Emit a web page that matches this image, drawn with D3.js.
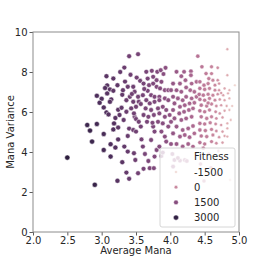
<!DOCTYPE html>
<html>
<head>
  <title>Average Mana vs Mana Variance</title>
  <style>
    body { margin: 0; background: #fff; }
    svg text { font-family: "DejaVu Sans", sans-serif; fill: #262626; }
  </style>
  <script src="https://d3js.org/d3.v7.min.js"></script>
</head>
<body>
  <div id="chart"></div>

  <script>
    // rows are [average mana, mana variance, fitness]
    var leftCluster = [
      [2.50, 3.72, 3100], [2.90, 2.36, 2900], [2.79, 5.35, 2800], [2.83, 5.07, 2850],
      [2.93, 5.40, 2700], [2.86, 4.52, 2800], [3.03, 4.90, 2600], [3.03, 4.10, 2650],
      [3.13, 4.39, 2500], [3.13, 3.77, 2550], [3.20, 4.22, 2400], [3.17, 5.13, 2450],
      [3.18, 5.43, 2400], [2.93, 6.81, 2500], [3.00, 6.66, 2450], [2.97, 6.46, 2500],
      [3.03, 6.23, 2400], [3.07, 5.98, 2450], [3.10, 5.88, 2350], [3.07, 7.79, 2300],
      [3.17, 7.67, 2250], [3.08, 7.33, 2350], [3.12, 7.13, 2300], [3.08, 6.93, 2350],
      [3.17, 7.06, 2250], [3.14, 6.63, 2300], [3.12, 6.51, 2350], [3.23, 7.34, 2200],
      [3.27, 8.00, 2100], [3.24, 6.11, 2250], [3.26, 5.85, 2200], [3.29, 6.21, 2150],
      [3.24, 5.22, 2250], [3.24, 4.63, 2300], [3.30, 3.49, 2300], [3.23, 2.56, 2350],
      [3.30, 6.86, 2150], [3.31, 7.09, 2100], [3.05, 7.20, 2400], [3.20, 5.70, 2300]
    ];

    var midCluster = [
      [3.33, 8.22, 2000], [3.40, 8.79, 1900], [3.53, 8.89, 1800], [3.42, 7.86, 1950],
      [3.32, 5.60, 2100], [3.33, 4.27, 2150], [3.38, 4.02, 2100], [3.36, 2.97, 2100],
      [3.40, 2.66, 2050], [3.53, 2.94, 1900], [3.49, 3.60, 1950], [3.47, 3.94, 2000],
      [3.38, 4.80, 2050], [3.40, 5.17, 2000], [3.46, 5.10, 1950], [3.48, 5.76, 1900],
      [3.50, 5.65, 1900], [3.54, 5.51, 1850], [3.57, 5.27, 1850], [3.50, 5.02, 1900],
      [3.58, 4.63, 1800], [3.60, 4.27, 1800], [3.63, 3.90, 1750], [3.61, 3.16, 1800],
      [3.70, 3.19, 1700], [3.76, 3.19, 1650], [3.68, 3.55, 1700], [3.77, 3.77, 1600],
      [3.80, 4.10, 1600], [3.87, 3.80, 1500], [3.84, 4.27, 1550], [3.89, 3.97, 1450],
      [3.72, 4.60, 1700], [3.77, 5.02, 1650], [3.75, 5.27, 1650], [3.82, 5.51, 1550],
      [3.87, 5.02, 1500], [3.92, 4.77, 1450], [3.94, 4.52, 1400], [3.38, 7.26, 2000],
      [3.34, 7.52, 2050], [3.46, 7.26, 1950], [3.48, 7.01, 1900], [3.41, 6.76, 1950],
      [3.36, 6.59, 2000], [3.46, 6.51, 1950], [3.50, 6.26, 1900], [3.43, 6.18, 1950],
      [3.36, 6.01, 2000], [3.47, 5.93, 1900], [3.53, 6.76, 1850], [3.54, 6.51, 1850],
      [3.60, 6.84, 1800], [3.56, 7.56, 1850], [3.51, 7.72, 1850], [3.65, 8.01, 1750],
      [3.73, 8.06, 1650], [3.81, 8.01, 1600], [3.86, 8.09, 1500], [3.93, 8.21, 1400],
      [3.67, 7.67, 1750], [3.61, 7.42, 1800], [3.69, 7.34, 1700], [3.75, 7.76, 1650],
      [3.80, 7.59, 1600], [3.87, 7.51, 1500], [3.75, 7.42, 1650], [3.80, 7.26, 1600],
      [3.85, 7.18, 1550], [3.92, 7.09, 1450], [3.97, 7.09, 1400], [3.67, 7.06, 1750],
      [3.72, 6.84, 1700], [3.77, 6.76, 1650], [3.84, 6.76, 1550], [3.65, 6.59, 1750],
      [3.70, 6.43, 1700], [3.77, 6.51, 1650], [3.84, 6.59, 1550], [3.92, 6.68, 1450],
      [3.97, 6.59, 1400], [3.64, 6.18, 1750], [3.72, 6.10, 1700], [3.82, 6.18, 1600],
      [3.89, 6.26, 1500], [3.94, 6.10, 1450], [3.61, 5.85, 1800], [3.68, 5.76, 1700],
      [3.76, 5.85, 1650], [3.84, 5.93, 1550], [3.92, 5.76, 1450], [3.99, 5.85, 1350],
      [3.66, 5.51, 1750], [3.74, 5.46, 1650], [3.89, 5.43, 1500], [3.97, 5.27, 1400],
      [3.44, 6.90, 1950], [3.57, 6.40, 1850], [3.62, 7.15, 1800], [3.90, 7.90, 1450]
    ];

    var transition = [
      [4.01, 5.51, 1300], [4.01, 4.40, 1300], [4.01, 7.09, 1300], [4.09, 8.01, 1150],
      [4.20, 8.01, 1000], [4.30, 8.04, 900], [4.30, 7.84, 850], [4.16, 7.79, 1050],
      [4.22, 7.59, 950], [4.14, 7.42, 1050], [4.04, 7.42, 1250], [4.09, 7.09, 1150],
      [4.16, 7.01, 1050], [4.23, 7.23, 950], [4.31, 7.42, 800], [4.38, 7.51, 650],
      [4.29, 7.09, 800], [4.35, 7.01, 700], [4.04, 6.76, 1250], [4.11, 6.68, 1100],
      [4.18, 6.59, 1000], [4.23, 6.76, 950], [4.31, 6.68, 800], [4.38, 6.76, 650],
      [4.06, 6.43, 1200], [4.14, 6.26, 1050], [4.21, 6.34, 950], [4.28, 6.43, 850],
      [4.35, 6.46, 700], [4.04, 6.10, 1250], [4.13, 5.93, 1100], [4.20, 6.01, 1000],
      [4.27, 6.10, 850], [4.33, 6.18, 750], [4.06, 5.68, 1200], [4.16, 5.60, 1050],
      [4.23, 5.68, 950], [4.31, 5.76, 800], [4.09, 5.27, 1150], [4.18, 5.10, 1000],
      [4.26, 5.18, 900], [4.33, 5.30, 750], [4.04, 4.93, 1250], [4.14, 4.77, 1050],
      [4.21, 4.85, 950], [4.28, 4.74, 850], [4.35, 4.93, 700], [4.09, 4.40, 1150],
      [4.18, 4.27, 1000], [4.26, 4.40, 900], [4.33, 4.27, 750], [4.06, 3.60, 1200],
      [4.14, 3.57, 1050], [4.21, 3.60, 950], [4.04, 3.27, 1250], [4.03, 3.90, 1250]
    ];

    var rightCluster = [
      [4.40, 8.79, 500], [4.46, 8.26, 400], [4.60, 8.26, 100], [4.69, 8.21, -100],
      [4.83, 9.14, -700], [4.52, 7.92, 300], [4.60, 7.92, 100], [4.56, 7.67, 200],
      [4.62, 7.59, 50], [4.69, 7.59, -150], [4.83, 7.84, -700], [4.43, 7.51, 450],
      [4.49, 7.34, 350], [4.55, 7.42, 200], [4.65, 7.34, 0], [4.71, 7.42, -300],
      [4.94, 7.34, -1500], [4.43, 7.18, 450], [4.50, 7.13, 300], [4.57, 7.18, 150],
      [4.65, 7.09, 0], [4.71, 7.09, -300], [4.79, 7.18, -600], [4.86, 7.09, -900],
      [4.42, 6.88, 500], [4.48, 6.84, 350], [4.55, 6.89, 200], [4.62, 6.84, 50],
      [4.69, 6.89, -150], [4.77, 6.84, -500], [4.84, 6.93, -800], [4.43, 6.63, 450],
      [4.50, 6.59, 300], [4.57, 6.68, 150], [4.65, 6.59, 0], [4.72, 6.63, -300],
      [4.79, 6.59, -600], [4.86, 6.68, -900], [4.45, 6.34, 400], [4.53, 6.30, 250],
      [4.60, 6.40, 100], [4.67, 6.30, -100], [4.74, 6.34, -400], [4.82, 6.30, -700],
      [4.43, 6.06, 450], [4.50, 6.01, 300], [4.57, 6.10, 150], [4.66, 6.01, -50],
      [4.72, 5.93, -300], [4.79, 6.06, -600], [4.86, 6.10, -1000], [4.45, 5.76, 400],
      [4.53, 5.68, 250], [4.60, 5.76, 100], [4.67, 5.68, -100], [4.76, 5.73, -450],
      [4.43, 5.43, 450], [4.50, 5.40, 300], [4.58, 5.46, 150], [4.66, 5.40, -50],
      [4.74, 5.35, -400], [4.83, 5.43, -800], [4.43, 5.10, 450], [4.51, 5.07, 300],
      [4.60, 5.13, 100], [4.67, 5.05, -100], [4.76, 5.02, -450], [4.83, 5.18, -800],
      [4.45, 4.80, 400], [4.53, 4.77, 250], [4.62, 4.85, 50], [4.71, 4.74, -250],
      [4.79, 4.80, -600], [4.43, 4.47, 450], [4.50, 4.40, 300], [4.60, 4.52, 100],
      [4.67, 4.44, -100], [4.76, 4.47, -450], [4.83, 4.77, -800], [4.48, 4.19, 350],
      [4.90, 6.30, -1200], [4.88, 5.60, -1100], [4.74, 6.95, -400], [4.55, 6.45, 200]
    ];

    // faint points sitting behind the legend box
    var underLegend = [
      [4.11, 3.70, 1100], [4.24, 3.55, 900], [4.44, 3.40, 400], [4.59, 3.22, 100],
      [4.68, 2.88, -150], [4.49, 2.55, 300], [4.77, 3.62, -500], [4.87, 2.60, -1000],
      [4.56, 3.90, 150], [4.70, 4.05, -200]
    ];

    var legendTicks = [-1500, 0, 1500, 3000];
    var xTicks = [2.0, 2.5, 3.0, 3.5, 4.0, 4.5, 5.0];
    var yTicks = [0, 2, 4, 6, 8, 10];

    var data = leftCluster.concat(midCluster, transition, rightCluster, underLegend);

    var width = 266, height = 266;
    var margin = { top: 32, right: 27, bottom: 34, left: 33 };

    var svg = d3.select("#chart")
      .append("svg")
      .attr("width", width)
      .attr("height", height);

    var x = d3.scaleLinear().domain([2, 5]).range([margin.left, width - margin.right]);
    var y = d3.scaleLinear().domain([0, 10]).range([height - margin.bottom, margin.top]);

    // seaborn's default cubehelix map: light end for low fitness, dark end for high
    function cubehelix(t) {
      var lam = 0.85 + (0.15 - 0.85) * t;
      var a = 0.8 * lam * (1 - lam) / 2;
      var phi = 2 * Math.PI * (0 / 3 + 0.4 * lam);
      var c = Math.cos(phi), s = Math.sin(phi);
      var r = lam + a * (-0.14861 * c + 1.78277 * s);
      var g = lam + a * (-0.29227 * c - 0.90649 * s);
      var b = lam + a * (1.97294 * c);
      function k(v) { return Math.round(Math.max(0, Math.min(1, v)) * 255); }
      return "rgb(" + k(r) + "," + k(g) + "," + k(b) + ")";
    }

    var fitExtent = d3.extent(data, function(d) { return d[2]; });
    var norm = d3.scaleLinear().domain(fitExtent).range([0, 1]).clamp(true);
    var color = function(f) { return cubehelix(norm(f)); };
    var radius = d3.scaleSqrt().domain(fitExtent).range([1.3, 2.6]).clamp(true);

    // axes
    var xAxis = svg.append("g")
      .attr("transform", "translate(0," + (height - margin.bottom) + ")")
      .call(d3.axisBottom(x).tickValues(xTicks).tickFormat(d3.format(".1f")).tickSize(3.5).tickPadding(1.5));
    var yAxis = svg.append("g")
      .attr("transform", "translate(" + margin.left + ",0)")
      .call(d3.axisLeft(y).tickValues(yTicks).tickSize(3.5).tickPadding(2));

    [xAxis, yAxis].forEach(function(g) {
      g.select(".domain").remove();
      g.selectAll(".tick line").attr("stroke", "#333").attr("stroke-width", 0.8);
      g.selectAll(".tick text").attr("font-size", 10).attr("fill", "#262626");
    });

    // frame
    svg.append("rect")
      .attr("x", margin.left)
      .attr("y", margin.top)
      .attr("width", width - margin.left - margin.right)
      .attr("height", height - margin.top - margin.bottom)
      .attr("fill", "none")
      .attr("stroke", "#8c8c8c")
      .attr("stroke-width", 1);

    // points
    svg.append("g")
      .selectAll("circle")
      .data(data)
      .enter()
      .append("circle")
      .attr("cx", function(d) { return x(d[0]); })
      .attr("cy", function(d) { return y(d[1]); })
      .attr("r", function(d) { return radius(d[2]); })
      .attr("fill", function(d) { return color(d[2]); })
      .attr("stroke", "#fff")
      .attr("stroke-width", 0.5);

    // axis labels
    svg.append("text")
      .attr("x", (margin.left + width - margin.right) / 2)
      .attr("y", 254)
      .attr("text-anchor", "middle")
      .attr("font-size", 10)
      .text("Average Mana");

    svg.append("text")
      .attr("transform", "translate(14," + ((margin.top + height - margin.bottom) / 2) + ") rotate(-90)")
      .attr("text-anchor", "middle")
      .attr("font-size", 10)
      .text("Mana Variance");

    // legend
    var legend = svg.append("g");
    legend.append("rect")
      .attr("x", 160).attr("y", 148)
      .attr("width", 75).attr("height", 79)
      .attr("rx", 2)
      .attr("fill", "#fff").attr("fill-opacity", 0.8)
      .attr("stroke", "#cccccc").attr("stroke-width", 0.8);

    legend.append("text")
      .attr("x", 194).attr("y", 160)
      .attr("font-size", 10)
      .text("Fitness");

    var items = legend.selectAll(".item")
      .data(legendTicks)
      .enter()
      .append("g")
      .attr("class", "item")
      .attr("transform", function(d, i) { return "translate(0," + (172 + i * 15.2) + ")"; });

    items.append("circle")
      .attr("cx", 176).attr("cy", 0)
      .attr("r", function(d) { return radius(d); })
      .attr("fill", function(d) { return color(d); })
      .attr("stroke", "#fff")
      .attr("stroke-width", 0.5);

    items.append("text")
      .attr("x", 194).attr("y", 3.6)
      .attr("font-size", 10)
      .text(function(d) { return d; });
  </script>
</body>
</html>
